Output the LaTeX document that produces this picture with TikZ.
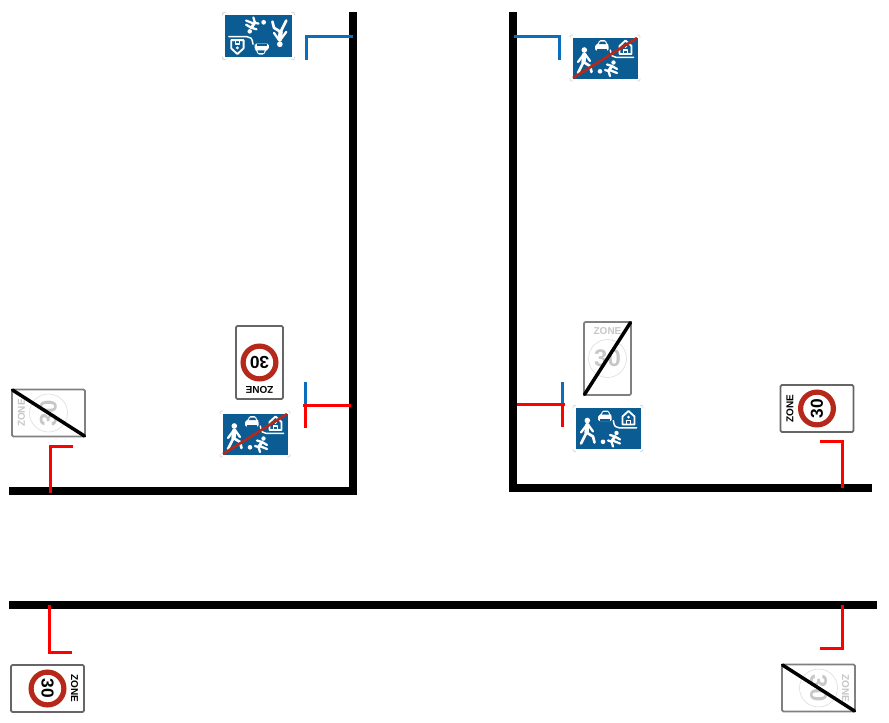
\documentclass[tikz,border=0pt]{standalone}
\usepackage{fontspec}
\setmainfont{Liberation Sans}
\usetikzlibrary{calc}

\definecolor{signblue}{HTML}{0B5C92}
\definecolor{signred}{HTML}{B5281A}
\definecolor{poleblue}{HTML}{0A6EBD}

\tikzset{
    road/.style={line width=6pt, black, line cap=butt, miter limit=10},
    bluepole/.style={line width=2.25pt, poleblue},
    redpole/.style={line width=2.25pt, red},
    plate/.style={draw=black!60, line width=1.3pt, fill=white, rounded corners=1pt},
    endplate/.style={draw=black!50, line width=1.3pt, fill=white, rounded corners=1pt},
    picto/.style={white, line width=1.7pt, line cap=round, line join=round},
    zonetext/.style={font=\bfseries\fontsize{7.5pt}{7.5pt}\selectfont, inner sep=0pt, transform shape},
    speedtext/.style={font=\bfseries\fontsize{13pt}{13pt}\selectfont, inner sep=0pt, transform shape},
    % 30 zone entry
    zonesign/.pic={
        \draw[plate] (-23.5,-36.5) rectangle (23.5,36.5);
        \draw[signred, line width=3.9pt, fill=white] (0,0) circle (16.4);
        \node[zonetext] (-zone) at (0,-27) {ZONE};
        \node[speedtext] (-speed) at (0,0) {30};
    },
    % 30 zone exit
    endzonesign/.pic={
        \draw[endplate] (-23.5,-36.5) rectangle (23.5,36.5);
        \draw[black!12, line width=0.5pt] (0,0) circle (19);
        \node[zonetext, text=black!22] (-zone) at (0,-27) {ZONE};
        \node[speedtext, text=black!22, font=\bfseries\fontsize{18pt}{18pt}\selectfont] (-speed) at (0,0) {30};
        \draw[black, line width=2.6pt, line cap=round] (-23,36) -- (23,-36);
    },
    % living street
    livingsign/.pic={
        \foreach \sx/\sy in {1/1,1/-1,-1/1,-1/-1}
            \draw[black!15, line width=0.7pt, rounded corners=1pt] (\sx*35,\sy*20) -- (\sx*35,\sy*23) -- (\sx*32,\sy*23);
        \fill[signblue] (-32.5,-20.5) rectangle (32.5,20.5);
        % pedestrian
        \fill[white] (-20.7,-8) circle (2.8);
        \draw[picto, line width=3.2pt] (-20.7,-3.5) -- (-21.5,4);
        \draw[picto, line width=2pt] (-21.5,4) -- (-27,15) (-21.5,4) -- (-15,8) -- (-13.5,14);
        \draw[picto] (-21,-4) -- (-27,4) (-20,-4) -- (-15,3);
        % car
        \fill[white, rounded corners=1pt] (-10,-7.5) -- (-10,-13) -- (-7.5,-13.5) -- (-5.5,-18) -- (0.5,-18) -- (2.5,-13.5) -- (3.7,-13) -- (3.7,-7.5) -- cycle;
        \fill[signblue] (-5,-16.5) -- (0,-16.5) -- (1,-14) -- (-6,-14) -- cycle;
        \fill[signblue] (-8,-7.5) rectangle (1.5,-9.3);
        % child and ball
        \fill[white] (-5,13.3) circle (2.3);
        \fill[white] (8.5,4.5) circle (2.2);
        \draw[picto, line width=2.2pt] (7,8) -- (3.5,13);
        \draw[picto] (3.5,13) -- (0,12) (3.5,13) -- (5,18);
        \draw[picto] (7,8) -- (2,6.5) (7,8) -- (12,11) (4.5,12) -- (12,15);
        % house and kerb
        \draw[picto, line width=1.1pt] (5.3,-8) .. controls (6,-2) and (8,-0.7) .. (11,-0.7) -- (28.7,-0.7);
        \draw[picto, line width=1.4pt] (14.5,-4) -- (14.5,-12) -- (20.5,-17.5) -- (26.5,-12) -- (26.5,-4) -- cycle;
        \fill[white] (20.5,-11.5) circle (1.5);
        \draw[picto, line width=1.2pt] (18.5,-4) -- (18.5,-8) -- (22.5,-8) -- (22.5,-4);
    },
    crossedliving/.pic={
        \pic {livingsign};
        \draw[signred, line width=2pt] (-32,20) -- (32,-20);
    }
}

\begin{document}
\begin{tikzpicture}[x=0.75pt, y=-0.75pt]
\useasboundingbox (0,0) rectangle (889,722);

% Roads
\draw[road] (9,490.5) -- (352.5,490.5) -- (352.5,12);
\draw[road] (512.7,12) -- (512.7,488) -- (871.6,488);
\draw[road] (9,605) -- (876.7,605);

% Blue poles
\draw[bluepole] (352.7,36.7) -- (306,36.7) -- (306,60);
\draw[bluepole] (514,36.7) -- (559,36.7) -- (559,60);
\draw[bluepole] (305,382) -- (305,405);
\draw[bluepole] (517,404) -- (562,404) -- (562,382);

% Red poles
\draw[redpole] (351,405) -- (303,405);
\draw[redpole] (305,405) -- (305,428);
\draw[redpole] (517,404) -- (565,404);
\draw[redpole] (562,404) -- (562,427);
\draw[redpole] (50.7,492.7) -- (50.7,446.5) -- (73,446.5);
\draw[redpole] (842.7,488) -- (842.7,441.7) -- (820,441.7);
\draw[redpole] (49.5,605) -- (49.5,652) -- (72,652);
\draw[redpole] (842.7,605) -- (842.7,648) -- (820,648);

% Zone signs
\foreach \signname/\px/\py/\rot in {upsign/259.5/362.5/180, eastsign/817/408.5/90, southsign/47.5/688.5/-90}
    \pic[rotate=\rot] (\signname) at (\px,\py) {zonesign};
\foreach \signname/\px/\py/\rot in {endright/607.5/358.5/0, endwest/48.5/413/90, endsouth/818.5/688/-90}
    \pic[rotate=\rot] (\signname) at (\px,\py) {endzonesign};

% Living street signs
\pic[rotate=180, scale=1.03] (livetop) at (258.5,36) {livingsign};
\pic at (608,428.5) {livingsign};
\pic (endlivetop) at (605,58) {crossedliving};
\pic[rotate=180] (endliveleft) at (255,434) {crossedliving};

\end{tikzpicture}
\end{document}
